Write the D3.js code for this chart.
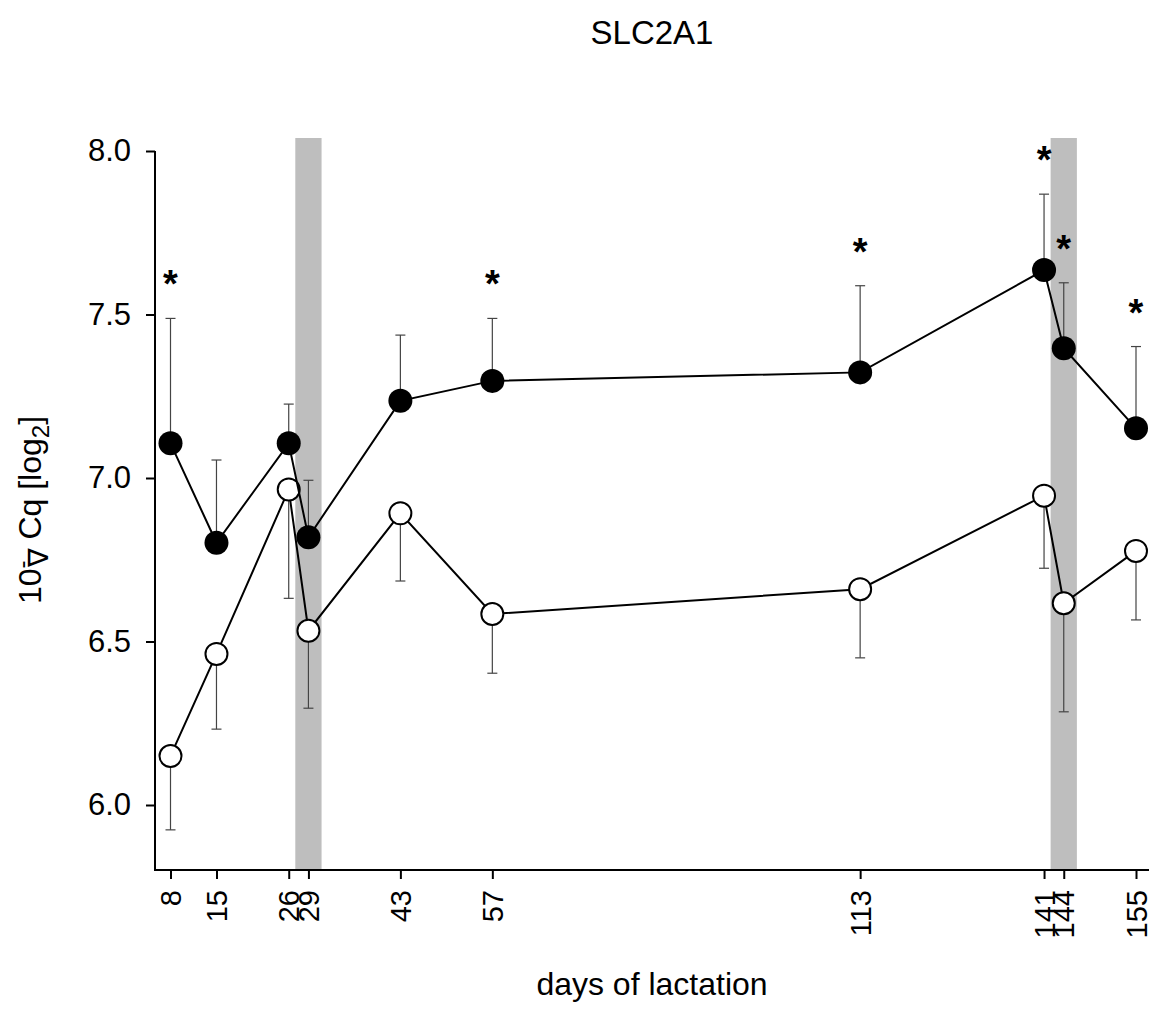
<!DOCTYPE html>
<html>
<head>
<meta charset="utf-8">
<script src="https://cdn.jsdelivr.net/npm/d3@7"></script>
<style>
  body { margin: 0; background: #fff; }
  svg { font-family: "Liberation Sans", Arial, sans-serif; }
</style>
</head>
<body>
<div id="chart"></div>
<script>
// days of lactation sampled
const days = [8, 15, 26, 29, 43, 57, 113, 141, 144, 155];
// filled circles: mean and upper error bar end
const filledMean  = [7.106, 6.802, 7.106, 6.819, 7.236, 7.297, 7.323, 7.636, 7.397, 7.152];
const filledUpper = [7.488, 7.055, 7.226, 6.993, 7.437, 7.488, 7.588, 7.868, 7.597, 7.402];
// open circles: mean and lower error bar end
const openMean  = [6.150, 6.462, 6.965, 6.533, 6.892, 6.584, 6.660, 6.946, 6.617, 6.777];
const openLower = [5.924, 6.232, 6.632, 6.296, 6.685, 6.403, 6.450, 6.724, 6.285, 6.566];
// significance markers
const signif = [true, false, false, false, false, true, true, true, true, true];
// grey bands
const bandDays = [29, 144];
const yTicks = [6.0, 6.5, 7.0, 7.5, 8.0];

const width = 1149;
const height = 1025;
const axisY = 870;
const axisX = 155;
const font = '"Liberation Sans", Arial, sans-serif';

const svg = d3.select('#chart')
  .append('svg')
  .attr('width', width)
  .attr('height', height);

const x = d3.scaleLinear().domain([8, 155]).range([170.5, 1136]);
const y = d3.scaleLinear().domain([6, 8]).range([805, 151]);

// grey bands
svg.selectAll('.band')
  .data(bandDays)
  .enter().append('rect')
  .attr('x', d => x(d - 2))
  .attr('width', d => x(d + 2) - x(d - 2))
  .attr('y', 138)
  .attr('height', axisY - 138)
  .attr('fill', '#bebebe');

// axes
const yAxis = svg.append('g')
  .attr('transform', `translate(${axisX},0)`)
  .call(d3.axisLeft(y).tickValues(yTicks).tickFormat(d3.format('.1f')).tickSize(9).tickPadding(15));
yAxis.select('.domain').remove();
yAxis.selectAll('line').attr('stroke-width', 2);
yAxis.selectAll('text').attr('font-size', 31).attr('fill', '#000').attr('font-family', font);

const xAxis = svg.append('g')
  .attr('transform', `translate(0,${axisY})`)
  .call(d3.axisBottom(x).tickValues(days).tickFormat(d3.format('d')).tickSize(9));
xAxis.select('.domain').remove();
xAxis.selectAll('line').attr('stroke-width', 2);
xAxis.selectAll('text')
  .attr('font-size', 29).attr('fill', '#000')
  .attr('font-family', font)
  .attr('transform', 'rotate(-90)')
  .attr('x', -20).attr('y', 0).attr('dy', '0.35em')
  .attr('text-anchor', 'end');

// L-shaped frame
svg.append('path')
  .attr('d', `M${axisX},${y(8)}V${axisY}H${width}`)
  .attr('fill', 'none')
  .attr('stroke', '#000')
  .attr('stroke-width', 2);

const line = d3.line().x(d => x(d[0])).y(d => y(d[1]));

function drawSeries(mean, ends, filled) {
  const pts = days.map((d, i) => [d, mean[i], ends[i]]);
  svg.append('path')
    .datum(pts)
    .attr('d', line)
    .attr('fill', 'none')
    .attr('stroke', '#000')
    .attr('stroke-width', 2);
  const eb = svg.append('g').attr('stroke', '#444').attr('stroke-width', 1.2);
  eb.selectAll('.stem').data(pts).enter().append('line')
    .attr('x1', d => x(d[0])).attr('x2', d => x(d[0]))
    .attr('y1', d => y(d[1])).attr('y2', d => y(d[2]));
  eb.selectAll('.cap').data(pts).enter().append('line')
    .attr('x1', d => x(d[0]) - 5).attr('x2', d => x(d[0]) + 5)
    .attr('y1', d => y(d[2])).attr('y2', d => y(d[2]));
  svg.append('g').selectAll('circle').data(pts).enter().append('circle')
    .attr('cx', d => x(d[0])).attr('cy', d => y(d[1]))
    .attr('r', filled ? 12 : 11)
    .attr('fill', filled ? '#000' : '#fff')
    .attr('stroke', '#000')
    .attr('stroke-width', filled ? 0 : 2);
}

drawSeries(openMean, openLower, false);
drawSeries(filledMean, filledUpper, true);

// significance asterisks
svg.append('g').selectAll('text')
  .data(days.map((d, i) => [d, filledUpper[i], signif[i]]).filter(d => d[2]))
  .enter().append('text')
  .attr('x', d => x(d[0]))
  .attr('y', d => y(d[1]) - 21)
  .attr('text-anchor', 'middle')
  .attr('font-size', 38)
  .attr('font-weight', 'bold')
  .text('*');

// title
svg.append('text')
  .attr('x', 652).attr('y', 44)
  .attr('text-anchor', 'middle')
  .attr('font-size', 33)
  .text('SLC2A1');

// x label
svg.append('text')
  .attr('x', 652).attr('y', 995)
  .attr('text-anchor', 'middle')
  .attr('font-size', 32)
  .text('days of lactation');

// y label
const yl = svg.append('text')
  .attr('transform', 'translate(41,510) rotate(-90)')
  .attr('text-anchor', 'middle')
  .attr('font-size', 32);
yl.append('tspan').text('10');
yl.append('tspan').attr('dy', -11).attr('font-size', 24).text('-');
yl.append('tspan').attr('dy', 18).attr('dx', -7).attr('font-size', 28).text('\u2207');
yl.append('tspan').attr('dy', -7).text('\u00a0Cq [log');
yl.append('tspan').attr('dy', 8).attr('font-size', 24).text('2');
yl.append('tspan').attr('dy', -8).text(']');
</script>
</body>
</html>
